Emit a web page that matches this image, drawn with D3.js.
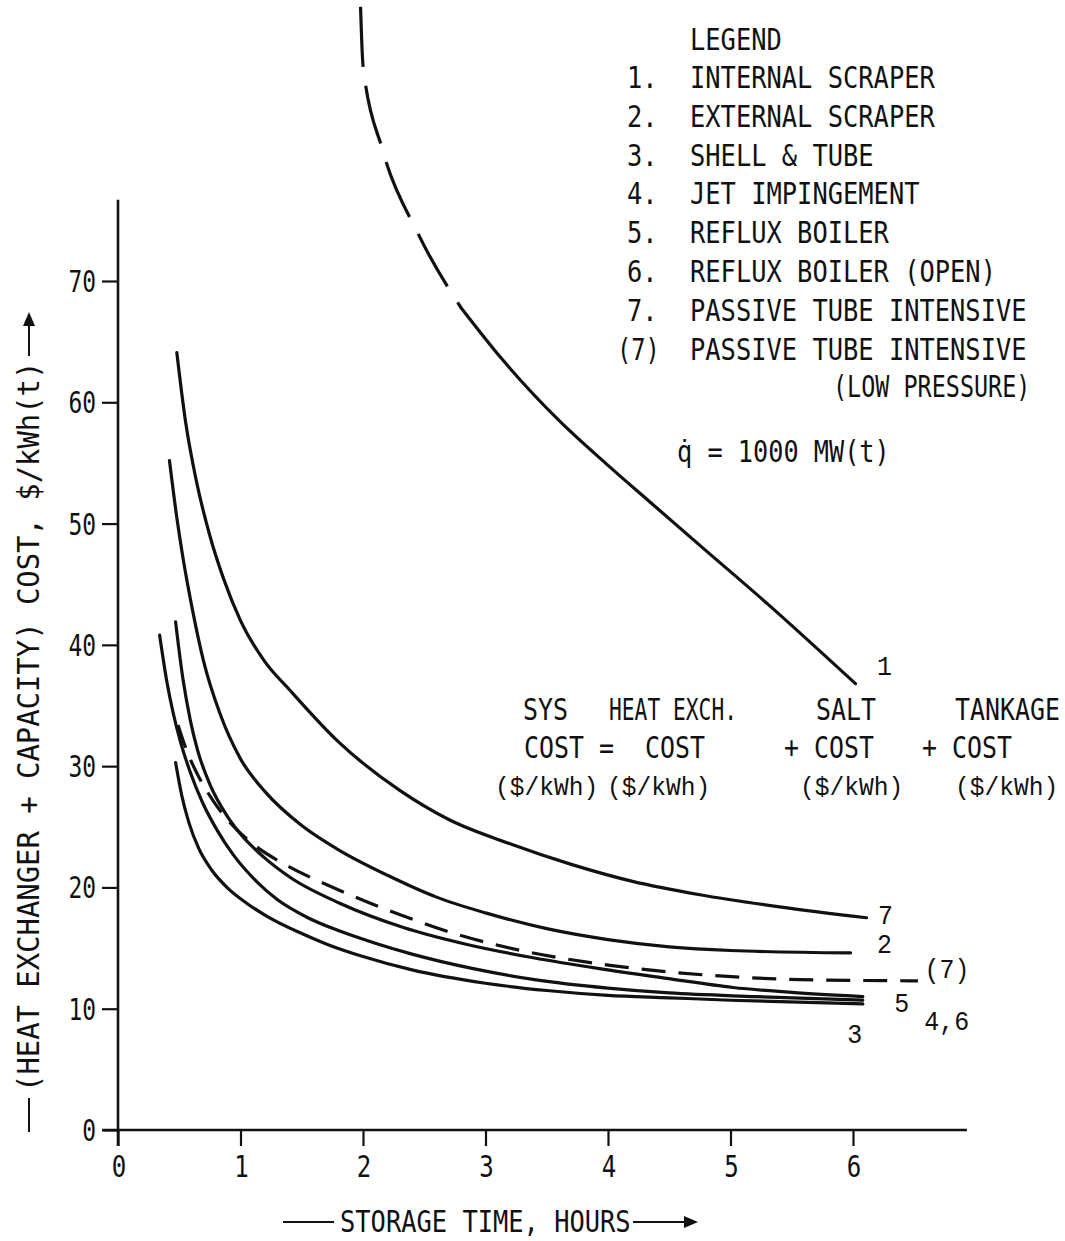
<!DOCTYPE html>
<html>
<head>
<meta charset="utf-8">
<script src="https://cdn.jsdelivr.net/npm/d3@7"></script>
<style>
  html, body { margin: 0; padding: 0; background: #fff; }
  svg { display: block; }
</style>
</head>
<body>
<svg id="chart" width="1065" height="1241"></svg>
<script>
// ---------------- data ----------------
const hourTicks = [0, 1, 2, 3, 4, 5, 6];
const costTicks = [0, 10, 20, 30, 40, 50, 60, 70];

// [storage time (h), cost ($/kWh)]
const internalScraperEstimated = [[1.98, 92.6], [2.00, 87.8], [2.16, 80.8], [2.45, 73.9], [2.80, 67.8]];
const internalScraper = [[2.80, 67.8], [3.14, 63.5], [3.61, 58.4], [4.00, 54.8], [4.34, 51.8], [4.75, 48.2],
  [5.30, 43.4], [6.02, 36.8]];
const passiveTube = [[0.48, 64.1], [0.55, 58.5], [0.64, 53.5], [0.75, 49.0], [0.86, 45.5], [1.00, 42.0], [1.20, 38.6],
  [1.40, 36.3], [1.80, 32.0], [2.30, 28.0], [2.70, 25.6], [3.20, 23.6], [3.70, 21.9], [4.20, 20.5], [4.75, 19.4],
  [5.40, 18.4], [6.11, 17.5]];
const externalScraper = [[0.42, 55.2], [0.48, 50.5], [0.53, 47.2], [0.60, 43.3], [0.70, 38.6], [0.83, 34.4], [1.00, 30.6],
  [1.20, 27.9], [1.50, 25.1], [1.80, 23.1], [2.20, 21.0], [2.60, 19.2], [3.00, 17.9], [3.50, 16.6], [4.00, 15.7],
  [4.50, 15.1], [5.00, 14.8], [5.98, 14.6]];
const passiveTubeLowPressure = [[0.49, 33.4], [0.56, 31.3], [0.65, 29.3], [0.78, 27.1], [0.90, 25.5], [1.10, 23.6],
  [1.38, 21.8], [1.71, 20.2], [2.06, 18.7], [2.37, 17.5], [2.68, 16.4], [3.29, 14.8], [4.00, 13.6], [4.91, 12.7],
  [5.57, 12.4], [6.53, 12.3]];
const refluxBoiler = [[0.47, 41.9], [0.53, 37.2], [0.59, 33.8], [0.65, 31.3], [0.75, 28.5], [0.89, 25.9], [1.00, 24.4],
  [1.19, 22.5], [1.41, 20.8], [1.81, 18.7], [2.33, 16.7], [2.85, 15.3], [3.39, 14.2], [3.93, 13.3], [4.48, 12.5],
  [5.02, 11.75], [5.50, 11.35], [6.08, 11.0]];
const jetImpingement = [[0.34, 40.8], [0.40, 36.9], [0.45, 34.4], [0.51, 32.0], [0.59, 29.5], [0.69, 27.0], [0.81, 24.7],
  [0.94, 22.7], [1.13, 20.5], [1.30, 19.0], [1.55, 17.5], [1.81, 16.4], [2.10, 15.4], [2.40, 14.5], [2.90, 13.3],
  [3.40, 12.4], [4.00, 11.7], [4.50, 11.3], [5.20, 11.0], [6.08, 10.7]];
const shellAndTube = [[0.47, 30.3], [0.52, 27.6], [0.58, 25.3], [0.66, 23.2], [0.76, 21.5], [0.90, 19.9], [1.05, 18.7],
  [1.22, 17.6], [1.50, 16.2], [1.71, 15.3], [2.00, 14.3], [2.40, 13.2], [3.00, 12.1], [3.50, 11.5], [4.00, 11.1],
  [4.50, 10.9], [5.00, 10.7], [6.08, 10.4]];

const legendTitle = "LEGEND";
const legendNumbers = ["1.", "2.", "3.", "4.", "5.", "6.", "7.", "(7)"];
const legendNames = ["INTERNAL SCRAPER", "EXTERNAL SCRAPER", "SHELL & TUBE", "JET IMPINGEMENT",
  "REFLUX BOILER", "REFLUX BOILER (OPEN)", "PASSIVE TUBE INTENSIVE", "PASSIVE TUBE INTENSIVE"];
const legendNote = "(LOW PRESSURE)";
const heatRate = "q\u0307 = 1000 MW(t)";
const eqTop = ["SYS", "HEAT EXCH.", "SALT", "TANKAGE"];
const eqMid = ["COST =", "COST", "+ COST", "+ COST"];
const eqUnit = ["($/kWh)", "($/kWh)", "($/kWh)", "($/kWh)"];
const curveLabels = ["1", "7", "2", "(7)", "5", "4,6", "3"];
const xTitle = "STORAGE TIME, HOURS";
const yTitle = "(HEAT EXCHANGER + CAPACITY) COST, $/kWh(t)";

// ---------------- drawing ----------------
const MONO = "'DejaVu Sans Mono', 'Liberation Mono', monospace";
const COURIER = "'Liberation Mono', 'DejaVu Sans Mono', monospace";
const INK = "#111";

const svg = d3.select("#chart");
svg.append("rect").attr("width", 1065).attr("height", 1241).attr("fill", "#fff");

const x = d3.scaleLinear().domain([0, 6]).range([118, 853]);
const y = d3.scaleLinear().domain([0, 70]).range([1130, 281]);

// condensed monospaced text: charW is the advance per character in px
function txt(parent, str, px, py, size, charW, anchor = "start", family = MONO, rot = 0) {
  const sx = charW / (0.602 * size);
  return parent.append("text")
    .attr("transform", `translate(${px},${py})${rot ? ` rotate(${rot})` : ""} scale(${sx.toFixed(4)},1)`)
    .attr("font-family", family)
    .attr("font-size", size)
    .attr("text-anchor", anchor)
    .attr("fill", INK)
    .text(str);
}

// axes
const axes = svg.append("g");
axes.append("line")
  .attr("x1", x(0)).attr("x2", x(0))
  .attr("y1", y(76.7)).attr("y2", y(0) + 16)
  .attr("stroke", INK).attr("stroke-width", 2.6);
axes.append("line")
  .attr("x1", x(0) - 16).attr("x2", x(6.93))
  .attr("y1", y(0)).attr("y2", y(0))
  .attr("stroke", INK).attr("stroke-width", 2.6);

const yAxis = axes.append("g").attr("transform", `translate(${x(0)},0)`)
  .call(d3.axisLeft(y).tickValues(costTicks).tickSize(16).tickFormat(""));
const xAxis = axes.append("g").attr("transform", `translate(0,${y(0)})`)
  .call(d3.axisBottom(x).tickValues(hourTicks).tickSize(16).tickFormat(""));
[yAxis, xAxis].forEach(g => {
  g.select(".domain").remove();
  g.selectAll(".tick line").attr("stroke", INK).attr("stroke-width", 2.2);
});

costTicks.forEach(v => txt(axes, String(v), x(0) - 22, y(v) + 11, 30, 13.8, "end"));
hourTicks.forEach(h => txt(axes, String(h), x(h) + 1, y(0) + 47, 30, 14.5, "middle"));

// axis titles
const xt = svg.append("g");
txt(xt, xTitle, 340, 1232, 30, 15.3);
xt.append("line").attr("x1", 283).attr("x2", 334).attr("y1", 1222).attr("y2", 1222)
  .attr("stroke", INK).attr("stroke-width", 2);
xt.append("line").attr("x1", 633).attr("x2", 690).attr("y1", 1222).attr("y2", 1222)
  .attr("stroke", INK).attr("stroke-width", 2);
xt.append("path").attr("d", "M698,1222 L684,1216 L684,1228 Z").attr("fill", INK);

const yt = svg.append("g");
txt(yt, yTitle, 39, 1092, 30, 17.4, "start", MONO, -90);
yt.append("line").attr("x1", 29).attr("x2", 29).attr("y1", 1132).attr("y2", 1098)
  .attr("stroke", INK).attr("stroke-width", 2);
yt.append("line").attr("x1", 29).attr("x2", 29).attr("y1", 356).attr("y2", 322)
  .attr("stroke", INK).attr("stroke-width", 2);
yt.append("path").attr("d", "M29,312 L23,326 L35,326 Z").attr("fill", INK);

// curves
const line = d3.line().x(d => x(d[0])).y(d => y(d[1])).curve(d3.curveMonotoneX);
const curves = [
  { pts: internalScraperEstimated, dash: "60,19" },
  { pts: internalScraper, dash: null },
  { pts: passiveTube, dash: null },
  { pts: externalScraper, dash: null },
  { pts: passiveTubeLowPressure, dash: "24,13" },
  { pts: refluxBoiler, dash: null },
  { pts: jetImpingement, dash: null },
  { pts: shellAndTube, dash: null }
];
const cg = svg.append("g").attr("fill", "none").attr("stroke", INK)
  .attr("stroke-width", 3.2).attr("stroke-linecap", "round").attr("stroke-linejoin", "round");
curves.forEach(c => {
  const p = cg.append("path").attr("d", line(c.pts));
  if (c.dash) p.attr("stroke-dasharray", c.dash).attr("stroke-linecap", "butt");
});

// labels at the curve ends
const ends = [internalScraper, passiveTube, externalScraper, passiveTubeLowPressure, refluxBoiler, jetImpingement, shellAndTube]
  .map(a => a[a.length - 1]);
const labelOffsets = [[29, -9], [19, 6], [34, 0], [29, -3], [39, 15], [84, 30], [-8, 39]];
const lg = svg.append("g");
curveLabels.forEach((s, i) => {
  const [t, v] = ends[i];
  txt(lg, s, x(t) + labelOffsets[i][0], y(v) + labelOffsets[i][1], 28, 15, "middle", COURIER);
});

// legend
const leg = svg.append("g");
txt(leg, legendTitle, 690, 50, 30, 15.3);
legendNames.forEach((s, i) => {
  const by = 88 + 38.8 * i;
  const num = legendNumbers[i];
  txt(leg, num, num.startsWith("(") ? 617 : 627, by, 30, num.startsWith("(") ? 14.3 : 15.3);
  txt(leg, s, 690, by, 30, 15.3);
});
txt(leg, legendNote, 833, 397, 30, 14.1);
txt(leg, heatRate, 677, 462, 30, 15.2);

// cost equation
const eq = svg.append("g");
[523, 609, 816, 955].forEach((px, i) => txt(eq, eqTop[i], px, 720, 30, i === 1 ? 12.8 : 15));
[524, 645, 784, 922].forEach((px, i) => txt(eq, eqMid[i], px, 758, 30, 15));
[495, 607, 800, 955].forEach((px, i) => txt(eq, eqUnit[i], px, 795, 25, 14.8, "start", COURIER));
</script>
</body>
</html>
